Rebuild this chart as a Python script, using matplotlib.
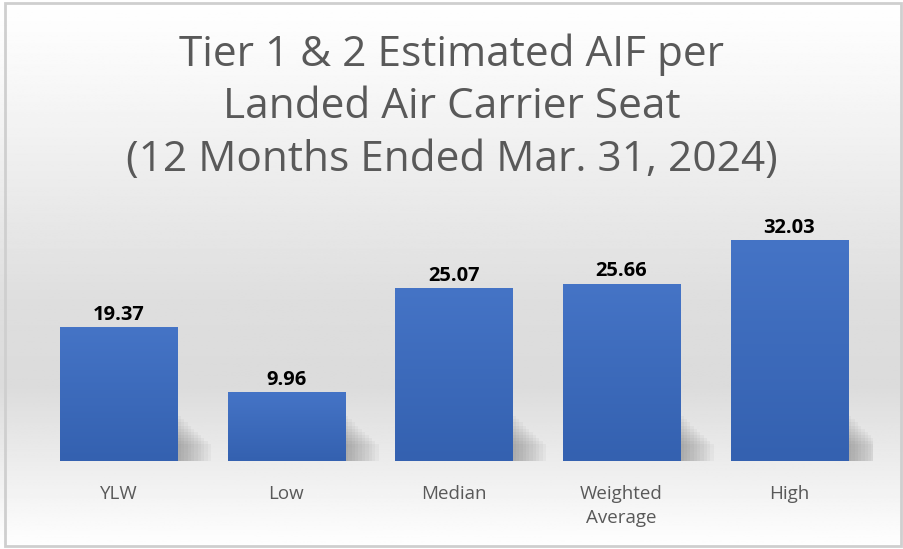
import numpy as np
import matplotlib
matplotlib.use("Agg")
import matplotlib.pyplot as plt
from matplotlib.patches import Rectangle

categories = ["YLW", "Low", "Median", "Weighted\nAverage", "High"]
values = [19.37, 9.96, 25.07, 25.66, 32.03]
value_labels = ["19.37", "9.96", "25.07", "25.66", "32.03"]
title = "Tier 1 & 2 Estimated AIF per\nLanded Air Carrier Seat\n(12 Months Ended Mar. 31, 2024)"

plt.rcParams["font.family"] = ["Open Sans", "DejaVu Sans"]

fig = plt.figure(figsize=(9.04, 5.49), dpi=100)

# background gradient: white top, light gray in the middle, white at the bottom
bg = fig.add_axes([0, 0, 1, 1], zorder=-10)
yy = np.linspace(0, 1, 400)
shade = np.interp(yy, [0, 0.15, 0.55, 0.7, 0.85, 1.0], [1.0, 0.97, 0.87, 0.86, 0.93, 1.0])
bg.imshow(np.tile(shade[:, None], (1, 2)), cmap="gray", vmin=0, vmax=1,
          aspect="auto", extent=[0, 1, 0, 1], origin="upper")
bg.add_patch(Rectangle((0.006, 0.006), 0.991, 0.988, fill=False,
                       edgecolor="#cfcfcf", lw=2, transform=bg.transAxes))
bg.set_xlim(0, 1)
bg.set_ylim(0, 1)
bg.axis("off")

fig.text(0.5, 0.805, title, ha="center", va="center", fontsize=30.5,
         color="#595959", linespacing=1.32)

ax = fig.add_axes([0.0387, 0.1603, 0.927, 0.44])
ax.set_facecolor("none")
x = np.arange(len(values))
bars = ax.bar(x, values, width=0.7, color="#3d6cc0", zorder=3)

# soft shadow to the lower right of each bar
for b in bars:
    h = min(b.get_height(), 6.5)
    for k in range(10):
        ax.add_patch(Rectangle((b.get_x() + 0.02 + k * 0.02, 0), b.get_width(),
                               h * (1 - k * 0.07), color="#444444",
                               alpha=0.045, lw=0, zorder=2))

# vertical gradient inside each bar
grad = np.linspace(0, 1, 100)[:, None]
cmap = matplotlib.colors.LinearSegmentedColormap.from_list("bar", ["#4574c6", "#3461b0"])
for b in bars:
    im = ax.imshow(grad, cmap=cmap, aspect="auto", zorder=4,
                   extent=[b.get_x(), b.get_x() + b.get_width(), b.get_height(), 0],
                   origin="lower")
    im.set_clip_path(b)

for xi, v, lab in zip(x, values, value_labels):
    ax.text(xi, v + 0.35, lab, ha="center", va="bottom", fontsize=14.5,
            fontweight="bold", color="black", zorder=5)

ax.set_xlim(-0.5, len(values) - 0.5)
ax.set_ylim(0, 35)
ax.set_xticks(x)
ax.set_xticklabels(categories, fontsize=13.5, color="#595959", linespacing=1.45)
ax.tick_params(axis="x", length=0, pad=17)
ax.set_yticks([])
for s in ax.spines.values():
    s.set_visible(False)

fig.savefig("out.png", dpi=100)
